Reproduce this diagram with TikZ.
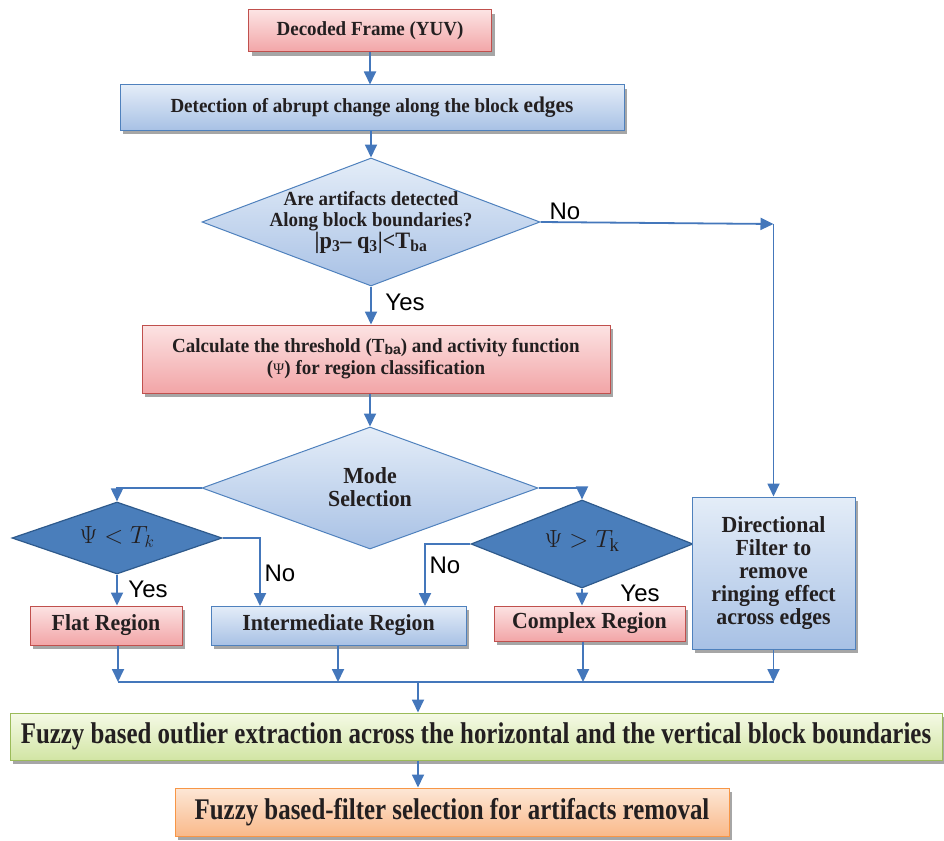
\documentclass[tikz,border=0pt]{standalone}
\usepackage{fontspec}
\setmainfont{Liberation Serif}
\newfontfamily\sansf{Liberation Sans}
\newfontfamily\condf[FakeStretch=0.83]{Liberation Serif}
\newfontfamily\semif[FakeStretch=0.95]{Liberation Serif}
\usetikzlibrary{shapes.geometric,arrows.meta,shadows,calc}
\definecolor{pinkT}{HTML}{FCE3E3}
\definecolor{pinkB}{HTML}{F2A5A7}
\definecolor{pinkD}{HTML}{C0504D}
\definecolor{blueT}{HTML}{E4EDF8}
\definecolor{blueB}{HTML}{A8C1E5}
\definecolor{blueD}{HTML}{4F81BD}
\definecolor{greenT}{HTML}{F5FAE6}
\definecolor{greenB}{HTML}{D2E5A4}
\definecolor{greenD}{HTML}{9BBB59}
\definecolor{orangeT}{HTML}{FDE7D6}
\definecolor{orangeB}{HTML}{F9B98A}
\definecolor{orangeD}{HTML}{F79646}
\definecolor{darkdia}{HTML}{4A7EBB}
\definecolor{darkdiaD}{HTML}{2E5A8C}
\definecolor{arrc}{HTML}{4477BB}
\definecolor{txt}{HTML}{231F20}
\tikzset{
  base/.style={rectangle, inner sep=0pt, line width=1pt, align=center, text=txt,
    font=\semif\bfseries\fontsize{20}{24}\selectfont,
    drop shadow={shadow xshift=3pt, shadow yshift=-4pt, fill=black, opacity=0.35}},
  pinkbox/.style={base, draw=pinkD, top color=pinkT, bottom color=pinkB},
  bluebox/.style={base, draw=blueD, top color=blueT, bottom color=blueB},
  greenbox/.style={base, draw=greenD, top color=greenT, bottom color=greenB},
  orangebox/.style={base, draw=orangeD, top color=orangeT, bottom color=orangeB},
  lightdia/.style={diamond, inner sep=0pt, line width=1pt, draw=blueD, top color=blueT, bottom color=blueB},
  darkdiamond/.style={diamond, inner sep=0pt, line width=1.2pt, draw=darkdiaD, fill=darkdia},
  diatext/.style={align=center, text=txt, inner sep=0pt, font=\semif\bfseries\fontsize{20}{21}\selectfont},
  lbl/.style={font=\sansf\fontsize{24}{26}\selectfont, text=black, inner sep=0pt},
  arr/.style={draw=arrc, line width=1.8pt, -{Triangle[length=13pt,width=12pt]}},
  ln/.style={draw=arrc, line width=1.4pt},
}
\begin{document}
\begin{tikzpicture}[x=1pt,y=-1pt]
\useasboundingbox (0,0) rectangle (944,840);

% boxes
\node[pinkbox, minimum width=243, minimum height=42] (dec) at (370,31) {Decoded Frame (YUV)};
\node[bluebox, minimum width=504, minimum height=45] (det) at (372,107.5) {Detection of abrupt change along the block {\fontsize{22.5}{24}\selectfont edges}};

\node[lightdia, minimum width=338, minimum height=128] (d1) at (371,222) {};
\node[diatext] (d1t) at (371,222) {Are artifacts detected\\Along block boundaries?\\[1pt]{\fontsize{23.5}{24}\selectfont |p\textsubscript{3}– q\textsubscript{3}|<T\textsubscript{ba}}};

\node[pinkbox, minimum width=468, minimum height=68, font=\semif\bfseries\fontsize{20}{22}\selectfont] (calc) at (376,359)
  {Calculate the threshold (T{\sansf\fontsize{14}{14}\selectfont\raisebox{-2pt}{ba}}) and activity function\\({\mdseries\fontsize{16}{16}\selectfont Ψ}) for region classification};

\node[lightdia, minimum width=336, minimum height=122] (mode) at (370,488) {};
\node[diatext, font=\semif\bfseries\fontsize{23}{23}\selectfont] (modet) at (370,487) {Mode\\Selection};

\node[darkdiamond, minimum width=210, minimum height=72] (s1) at (117,538) {};
\node[text=txt, inner sep=0pt, font=\fontsize{26.5}{28}\selectfont] (s1t) at (117,537) {$\Psi < T_k$};

\node[darkdiamond, minimum width=222, minimum height=88] (s2) at (582,544) {};
\node[text=txt, inner sep=0pt, font=\fontsize{26.5}{28}\selectfont] (s2t) at (582,541) {$\Psi > T_{\mathrm{k}}$};

\node[pinkbox, minimum width=152, minimum height=39, font=\semif\bfseries\fontsize{23}{24}\selectfont] (flat) at (106,625.5) {Flat Region};
\node[bluebox, minimum width=255, minimum height=39, font=\semif\bfseries\fontsize{23}{24}\selectfont] (inter) at (338.5,625.5) {Intermediate Region};
\node[pinkbox, minimum width=191, minimum height=35, font=\semif\bfseries\fontsize{23}{24}\selectfont] (comp) at (589.5,623.5) {Complex Region};
\node[bluebox, minimum width=163, minimum height=152, font=\semif\bfseries\fontsize{23}{23}\selectfont] (dir) at (773.5,573)
  {Directional\\Filter to\\remove\\ringing effect\\across edges};

\node[greenbox, minimum width=932, minimum height=47, font=\condf\bfseries\fontsize{30}{32}\selectfont] (fz1) at (476,736.5)
  {Fuzzy based outlier extraction across the horizontal and the vertical block boundaries};
\node[orangebox, minimum width=554, minimum height=48, font=\condf\bfseries\fontsize{30}{32}\selectfont] (fz2) at (452,812)
  {Fuzzy based-filter selection for artifacts removal};

% coordinates
\coordinate (nr) at (773.5,224);
\coordinate (m1) at (118,682);
\coordinate (m2) at (338,682);
\coordinate (m3) at (583,682);
\coordinate (m4) at (773.5,682);
\coordinate (mj) at (418,682);
\coordinate (noL) at (260,606);
\coordinate (noR) at (425,606);

% connectors
\draw[arr] (dec.south) -- (dec.south |- det.north);
\draw[arr] (d1.north |- det.south) -- (d1.north);
\draw[arr] (d1.east) -- (nr);
\draw[arr] (nr) -- (dir.north);
\draw[arr] (d1.south) -- (d1.south |- calc.north);
\draw[arr] (mode.north |- calc.south) -- (mode.north);
\draw[arr] (mode.west) -| (s1.north);
\draw[arr] (mode.east) -| (s2.north);
\draw[arr] (s1.south) -- (s1.south |- flat.north);
\draw[arr] (s1.east) -| (noL);
\draw[arr] (s2.west) -| (noR);
\draw[arr] (s2.south) -- (s2.south |- comp.north);

\draw[arr] (m1 |- flat.south) -- (m1);
\draw[arr] (m2 |- inter.south) -- (m2);
\draw[arr] (m3 |- comp.south) -- (m3);
\draw[arr] (dir.south) -- (m4);
\draw[ln] (m1) -- (m4);
\draw[arr] (mj) -- (mj |- fz1.north);
\draw[arr] (mj |- fz1.south) -- (mj |- fz2.north);

% labels
\node[lbl] (lno1) at (565,211) {No};
\node[lbl] (lyes1) at (405,302) {Yes};
\node[lbl] (lyes2) at (148,589) {Yes};
\node[lbl] (lno2) at (280,573) {No};
\node[lbl] (lno3) at (445,565) {No};
\node[lbl] (lyes3) at (640,593) {Yes};
\end{tikzpicture}
\end{document}
